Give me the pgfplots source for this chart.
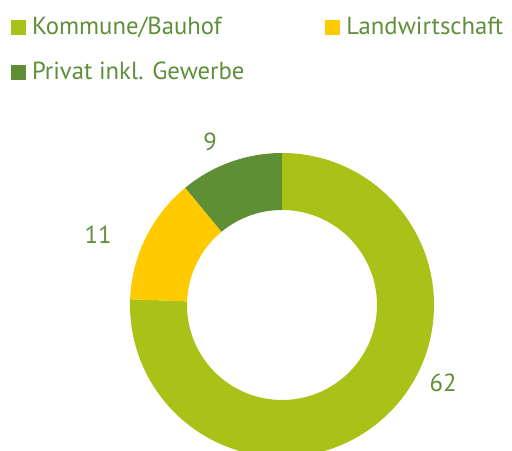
\documentclass[border=0pt]{standalone}
\usepackage{pgfplots}
\pgfplotsset{compat=1.18}
\usepackage{pgfplotstable}
\usepackage{fontspec}
\setmainfont{PT Sans}
\usetikzlibrary{calc}
\definecolor{cKom}{HTML}{AAC117}
\definecolor{cLand}{HTML}{FFCB00}
\definecolor{cPriv}{HTML}{5F8F35}
\definecolor{txt}{HTML}{5F8F3A}

\pgfplotstableread{
name value
Kommune 62
Landwirtschaft 11
Privat 9
}\data

\begin{document}
\begin{tikzpicture}
\pgfplotstablegetelem{0}{value}\of\data \edef\vA{\pgfplotsretval}
\pgfplotstablegetelem{1}{value}\of\data \edef\vB{\pgfplotsretval}
\pgfplotstablegetelem{2}{value}\of\data \edef\vC{\pgfplotsretval}
\pgfmathsetmacro\tot{\vA+\vB+\vC}
\pgfmathsetmacro\eA{90-360*(\vA/\tot)}
\pgfmathsetmacro\eB{\eA-360*(\vB/\tot)}
\pgfmathsetmacro\eC{\eB-360*(\vC/\tot)}
\def\R{152bp}
\def\r{95bp}
\begin{axis}[
  scale only axis, width=512bp, height=451bp,
  xmin=0, xmax=512, ymin=0, ymax=451,
  hide axis, clip=true,
  legend columns=2,
  legend image code/.code={\fill[#1] (0bp,0bp) rectangle (15bp,15bp);},
  legend style={draw=none, fill=none, inner sep=0pt, outer sep=0pt,
    at={(axis cs:11,434)}, anchor=north west,
    font=\fontsize{24.7bp}{30bp}\selectfont, text=txt,
    nodes={inner sep=0pt, text height=18bp, text depth=5bp},
    cells={anchor=base west},
    row sep=22bp,
    /tikz/every odd column/.append style={column sep=6bp},
    /tikz/every even column/.append style={column sep=81bp}},
]
\addlegendimage{fill=cKom, draw=none}
\addlegendentry{Kommune/Bauhof}
\addlegendimage{fill=cLand, draw=none}
\addlegendentry{Landwirtschaft}
\addlegendimage{fill=cPriv, draw=none}
\addlegendentry{Privat inkl. Gewerbe}

\fill[cKom] ($(axis cs:282,146)+(90:\R)$) arc[start angle=90, end angle=\eA, radius=\R]
  -- ($(axis cs:282,146)+(\eA:\r)$) arc[start angle=\eA, end angle=90, radius=\r] -- cycle;
\fill[cLand] ($(axis cs:282,146)+(\eA:\R)$) arc[start angle=\eA, end angle=\eB, radius=\R]
  -- ($(axis cs:282,146)+(\eB:\r)$) arc[start angle=\eB, end angle=\eA, radius=\r] -- cycle;
\fill[cPriv] ($(axis cs:282,146)+(\eB:\R)$) arc[start angle=\eB, end angle=\eC, radius=\R]
  -- ($(axis cs:282,146)+(\eC:\r)$) arc[start angle=\eC, end angle=\eB, radius=\r] -- cycle;

\node[text=txt, font=\fontsize{24.7bp}{30bp}\selectfont, inner sep=0pt] at (axis cs:210,309) {\vC};
\node[text=txt, font=\fontsize{24.7bp}{30bp}\selectfont, inner sep=0pt] at (axis cs:98,216) {\vB};
\node[text=txt, font=\fontsize{24.7bp}{30bp}\selectfont, inner sep=0pt] at (axis cs:443,68) {\vA};
\end{axis}
\pgfresetboundingbox
\path (current axis.south west) rectangle (current axis.north east);
\end{tikzpicture}
\end{document}
